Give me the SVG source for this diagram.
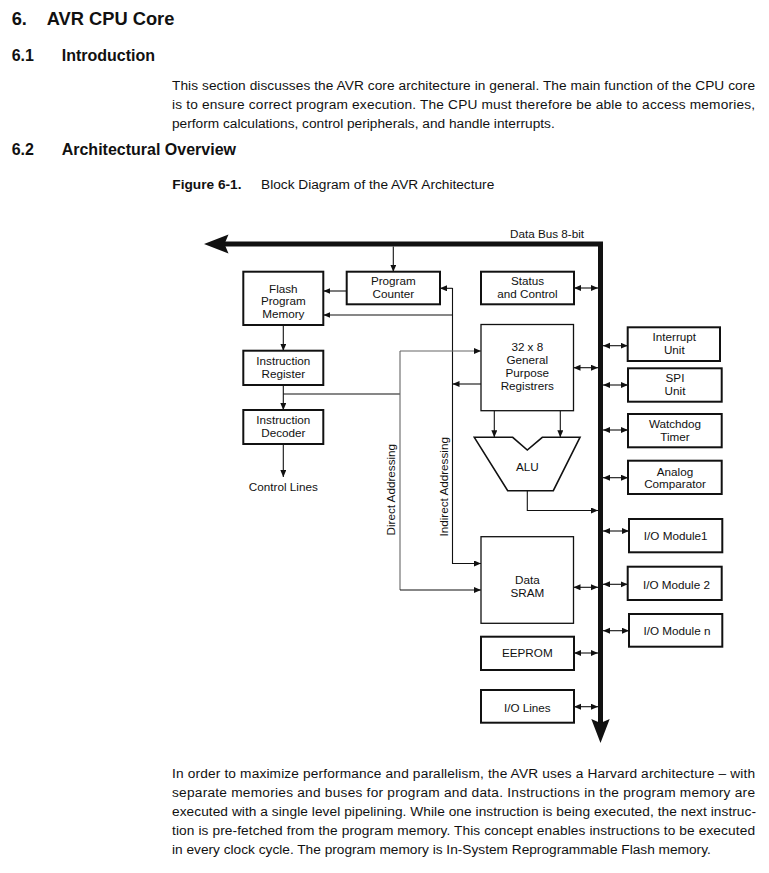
<svg xmlns="http://www.w3.org/2000/svg" width="769" height="873" viewBox="0 0 769 873">
<style>
.doc{font-family:"Liberation Sans",Arial,sans-serif;fill:#111}
.h1{font-size:18.3px;font-weight:bold}
.h2{font-size:16px;font-weight:bold}
.p{font-size:13.7px}
.t{font-family:"Liberation Sans",Arial,sans-serif;font-size:11.7px;fill:#111;text-anchor:middle}
.tl{font-family:"Liberation Sans",Arial,sans-serif;font-size:11.7px;fill:#111}
.box{fill:#fff;stroke:#111;stroke-width:2}
.thin{fill:#fff;stroke:#111;stroke-width:1.3}
.c{fill:none;stroke:#111;stroke-width:1.1}
.g{fill:none;stroke:#666;stroke-width:1.1}
.a{marker-end:url(#ah)}
.d{marker-start:url(#ah);marker-end:url(#ah)}
</style>
<defs>
<marker id="ah" markerUnits="userSpaceOnUse" markerWidth="8" markerHeight="8" refX="7" refY="3" orient="auto-start-reverse">
<path d="M0,0 L7,3 L0,6 Z" fill="#111"/>
</marker>
</defs>
<rect width="769" height="873" fill="#fff"/>

<g id="document-text" class="doc">
<text class="h1" x="11.7" y="25">6.</text>
<text class="h1" x="46.7" y="25">AVR CPU Core</text>
<text class="h2" x="11.7" y="61">6.1</text>
<text class="h2" x="61.7" y="61">Introduction</text>
<text class="p" x="172" y="90" textLength="583" lengthAdjust="spacing">This section discusses the AVR core architecture in general. The main function of the CPU core</text>
<text class="p" x="172" y="109" textLength="583" lengthAdjust="spacing">is to ensure correct program execution. The CPU must therefore be able to access memories,</text>
<text class="p" x="172" y="128">perform calculations, control peripherals, and handle interrupts.</text>
<text class="h2" x="11.7" y="155">6.2</text>
<text class="h2" x="61.7" y="155">Architectural Overview</text>
<text class="p" x="172.3" y="188.5" font-weight="bold">Figure 6-1.</text>
<text class="p" x="261" y="188.5">Block Diagram of the AVR Architecture</text>
<text class="p" x="172" y="778" textLength="583" lengthAdjust="spacing">In order to maximize performance and parallelism, the AVR uses a Harvard architecture – with</text>
<text class="p" x="172" y="797" textLength="583" lengthAdjust="spacing">separate memories and buses for program and data. Instructions in the program memory are</text>
<text class="p" x="172" y="816" textLength="584" lengthAdjust="spacing">executed with a single level pipelining. While one instruction is being executed, the next instruc-</text>
<text class="p" x="172" y="835" textLength="583" lengthAdjust="spacing">tion is pre-fetched from the program memory. This concept enables instructions to be executed</text>
<text class="p" x="172" y="854">in every clock cycle. The program memory is In-System Reprogrammable Flash memory.</text>
</g>

<g id="connectors">
<polyline points="224,244 600.5,244 600.5,724" fill="none" stroke="#111" stroke-width="5"/>
<path d="M204,244 L228.5,234.5 L224.5,244 L228.5,253.5 Z" fill="#111"/>
<path d="M600.5,743 L591.3,719 L600.5,723 L609.7,719 Z" fill="#111"/>
<text class="tl" x="510" y="237.5">Data Bus 8-bit</text>

<line class="c a" x1="393.3" y1="246.5" x2="393.3" y2="271.7"/>
<line class="c a" x1="346.7" y1="291" x2="323.3" y2="291"/>
<path class="c a" d="M452.5,288 V563.5 H481"/>
<line class="c a" x1="452.5" y1="288.3" x2="440" y2="288.3"/>
<line class="c a" x1="452.5" y1="315" x2="323.3" y2="315"/>
<line class="c a" x1="481" y1="384" x2="452.5" y2="384"/>
<line class="c a" x1="283.3" y1="325" x2="283.3" y2="350.7"/>
<line class="c a" x1="283.3" y1="385" x2="283.3" y2="410"/>
<line class="c" x1="283.3" y1="394" x2="400" y2="394"/>
<path class="g a" d="M400,351 H481"/>
<path class="g" d="M400,351 V590"/>
<path class="c a" d="M400,590 H481"/>
<line class="c a" x1="283.3" y1="444" x2="283.3" y2="477"/>
<line class="c a" x1="494.3" y1="410.7" x2="494.3" y2="437.3"/>
<line class="c a" x1="560.3" y1="410.7" x2="560.3" y2="437.3"/>
<path class="c a" d="M527.3,490.7 V510.5 H598"/>
<line class="c d" x1="574" y1="288" x2="598" y2="288"/>
<line class="c d" x1="573.5" y1="367.7" x2="598" y2="367.7"/>
<line class="c d" x1="573.5" y1="587.3" x2="598" y2="587.3"/>
<line class="c d" x1="574" y1="653" x2="598" y2="653"/>
<line class="c d" x1="574" y1="706.7" x2="598" y2="706.7"/>
<line class="c d" x1="603" y1="345.7" x2="627.7" y2="345.7"/>
<line class="c d" x1="603" y1="385" x2="628" y2="385"/>
<line class="c d" x1="603" y1="430" x2="628" y2="430"/>
<line class="c d" x1="603" y1="477.7" x2="628" y2="477.7"/>
<line class="c d" x1="603" y1="531" x2="629" y2="531"/>
<line class="c d" x1="603" y1="584.3" x2="627.7" y2="584.3"/>
<line class="c d" x1="603" y1="630.7" x2="629" y2="630.7"/>
<text class="tl" transform="translate(394.5,535.5) rotate(-90)">Direct Addressing</text>
<text class="tl" transform="translate(447.8,536.5) rotate(-90)">Indirect Addressing</text>
<text class="t" x="283.3" y="490.7">Control Lines</text>
</g>

<g id="flash">
<rect class="box" x="243.3" y="271.7" width="80" height="53.3"/>
<text class="t" x="283.3" y="292.5">Flash</text>
<text class="t" x="283.3" y="305.3">Program</text>
<text class="t" x="283.3" y="318.1">Memory</text>
</g>
<g id="program-counter">
<rect class="box" x="346.7" y="271.7" width="93.3" height="32.6"/>
<text class="t" x="393.3" y="285">Program</text>
<text class="t" x="393.3" y="297.5">Counter</text>
</g>
<g id="status">
<rect class="box" x="481" y="271.7" width="93" height="32.6"/>
<text class="t" x="527.5" y="285">Status</text>
<text class="t" x="527.5" y="297.5">and Control</text>
</g>
<g id="instruction-register">
<rect class="box" x="243.3" y="350.7" width="80" height="34.3"/>
<text class="t" x="283.3" y="365">Instruction</text>
<text class="t" x="283.3" y="377.5">Register</text>
</g>
<g id="instruction-decoder">
<rect class="box" x="243.3" y="410" width="80" height="34"/>
<text class="t" x="283.3" y="424">Instruction</text>
<text class="t" x="283.3" y="436.7">Decoder</text>
</g>
<g id="gpr">
<rect class="thin" x="481" y="324.5" width="92.5" height="86.2"/>
<text class="t" x="527.3" y="350.7">32 x 8</text>
<text class="t" x="527.3" y="363.8">General</text>
<text class="t" x="527.3" y="376.9">Purpose</text>
<text class="t" x="527.3" y="390">Registrers</text>
</g>
<g id="alu">
<polygon points="474.3,437.3 512.7,437.3 527.3,450 542.3,437.3 580,437.3 553.3,490.7 507.7,490.7" fill="#fff" stroke="#111" stroke-width="1.6" stroke-linejoin="miter"/>
<text class="t" x="527.3" y="470.7">ALU</text>
</g>
<g id="data-sram">
<rect class="thin" x="481" y="536.7" width="92.5" height="86.6"/>
<text class="t" x="527.3" y="584">Data</text>
<text class="t" x="527.3" y="596.7">SRAM</text>
</g>
<g id="eeprom">
<rect class="box" x="481" y="636.7" width="93" height="33.3"/>
<text class="t" x="527.3" y="657.3">EEPROM</text>
</g>
<g id="io-lines">
<rect class="box" x="481" y="690" width="93" height="32.7"/>
<text class="t" x="527.3" y="711.7">I/O Lines</text>
</g>
<g id="interrupt-unit">
<rect class="box" x="627.7" y="327.3" width="92.3" height="33.7"/>
<text class="t" x="674.3" y="340.7">Interrupt</text>
<text class="t" x="674.3" y="354">Unit</text>
</g>
<g id="spi-unit">
<rect class="box" x="628" y="368.3" width="93.7" height="33.4"/>
<text class="t" x="675" y="382.3">SPI</text>
<text class="t" x="675" y="394.7">Unit</text>
</g>
<g id="watchdog">
<rect class="box" x="628" y="414" width="93.7" height="33.3"/>
<text class="t" x="675" y="428.3">Watchdog</text>
<text class="t" x="675" y="440.7">Timer</text>
</g>
<g id="analog-comparator">
<rect class="box" x="628" y="460.7" width="93.7" height="33.3"/>
<text class="t" x="675" y="476">Analog</text>
<text class="t" x="675" y="487.8">Comparator</text>
</g>
<g id="io-module-1">
<rect class="box" x="629" y="519" width="93.3" height="33.3"/>
<text class="t" x="675.7" y="539.5">I/O Module1</text>
</g>
<g id="io-module-2">
<rect class="box" x="627.7" y="566.7" width="94" height="33.3"/>
<text class="t" x="676.5" y="588.5">I/O Module 2</text>
</g>
<g id="io-module-n">
<rect class="box" x="629" y="614" width="93.3" height="32.7"/>
<text class="t" x="677" y="635">I/O Module n</text>
</g>
</svg>
